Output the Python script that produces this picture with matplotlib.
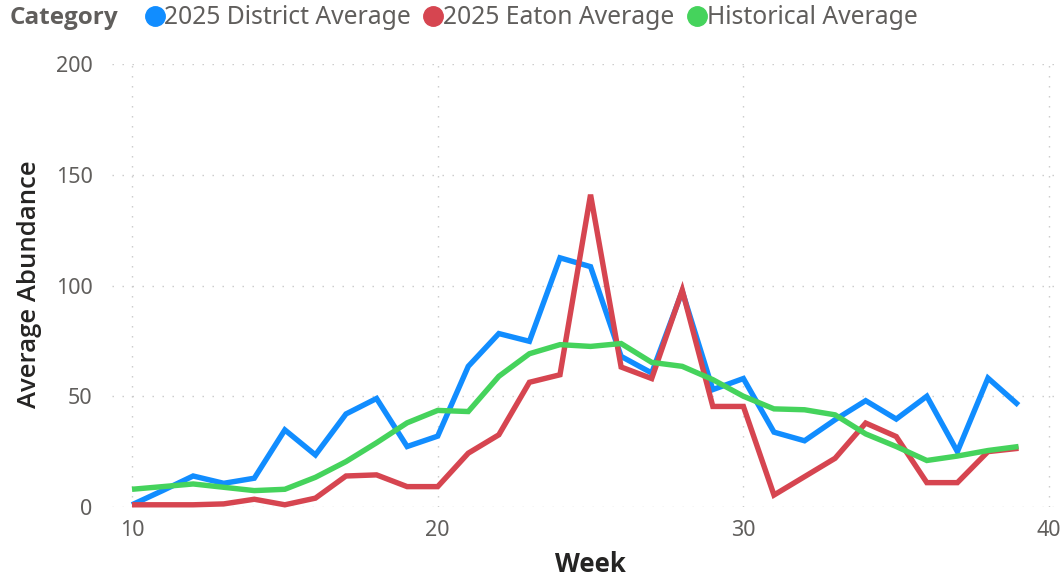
import matplotlib
matplotlib.use("Agg")
import matplotlib.pyplot as plt
from matplotlib.lines import Line2D

weeks = list(range(10, 40))
district = [1, 7.4, 14, 10.7, 13, 34.8, 23.5, 42, 49, 27.3, 32, 63.5, 78.3, 74.8, 112.5, 108.5,
            68, 60.5, 97.4, 53, 58, 33.8, 29.9, 39.4, 48, 39.7, 50, 25, 58.2, 46]
eaton = [1, 1, 1, 1.4, 3.5, 1, 4, 14, 14.5, 9.2, 9.2, 24.3, 32.6, 56.3, 59.7, 141,
         63.2, 58, 97.9, 45.4, 45.4, 5.4, 13.7, 22, 37.9, 31.8, 11, 11, 25, 26.5]
historical = [8, 9.2, 10.4, 8.9, 7.4, 8, 13.4, 20.5, 29, 38, 43.6, 43.1, 59, 69.2, 73.3, 72.5,
              73.8, 65.3, 63.5, 57.5, 50, 44.3, 43.9, 41.6, 33, 27.3, 21, 23, 25.5, 27.3]
series_names = ["2025 District Average", "2025 Eaton Average", "Historical Average"]
colors = ["#118DFF", "#D64550", "#45D35C"]
xticks = [10, 20, 30, 40]
yticks = [0, 50, 100, 150, 200]

FONT = ["Noto Sans", "DejaVu Sans"]
BOLD = ["Open Sans", "Lato", "DejaVu Sans"]
plt.rcParams["font.family"] = FONT

W, H = 1063, 580
fig = plt.figure(figsize=(W / 100, H / 100), dpi=100)
left, right, top, bottom = 112, 1062, 64, 507
ax = fig.add_axes([left / W, 1 - bottom / H, (right - left) / W, (bottom - top) / H])

x0 = 10 - (132 - left) / 30.57
x1 = 10 + (right - 132) / 30.57
ax.set_xlim(x0, x1)
ax.set_ylim(0, 200)

for vals, c, name in zip([district, eaton, historical], colors, series_names):
    ax.plot(weeks, vals, color=c, lw=3.9, label=name, solid_joinstyle="miter",
            solid_capstyle="butt", clip_on=False, zorder=3)

for s in ax.spines.values():
    s.set_visible(False)

grid_kw = dict(color="#C8C8C8", lw=1.0, dashes=(1, 6.2), zorder=1)
for yv in yticks:
    ax.axhline(yv, **grid_kw)
for xv in xticks:
    ax.plot([xv, xv], [0, 200], **grid_kw)

ax.set_xticks(xticks)
ax.set_yticks(yticks)
ax.tick_params(length=0, labelsize=15.5, labelcolor="#605E5C", pad=9)
ax.tick_params(axis="y", pad=14)

fig.text(30 / W, 1 - 284 / H, "Average Abundance", rotation=90, ha="center", va="center",
         fontsize=18.5, color="#252423", family=BOLD, fontweight="semibold")
fig.text(590 / W, 1 - 565 / H, "Week", ha="center", va="center", fontsize=18.5,
         color="#252423", family=BOLD, fontweight="bold")

fig.text(10 / W, 1 - 18 / H, "Category", ha="left", va="center", fontsize=17.5,
         color="#605E5C", family=BOLD, fontweight="bold")
handles = [Line2D([], [], marker="o", ls="", markersize=14, color=c) for c in colors]
leg = fig.legend(handles, series_names, loc="center left", bbox_to_anchor=(136 / W, 1 - 18 / H),
                 ncol=3, frameon=False, fontsize=17.8, handletextpad=-0.35, columnspacing=0.15,
                 handlelength=1.5, borderaxespad=0, borderpad=0)
for t in leg.get_texts():
    t.set_color("#605E5C")

fig.savefig("out.png", dpi=100)
